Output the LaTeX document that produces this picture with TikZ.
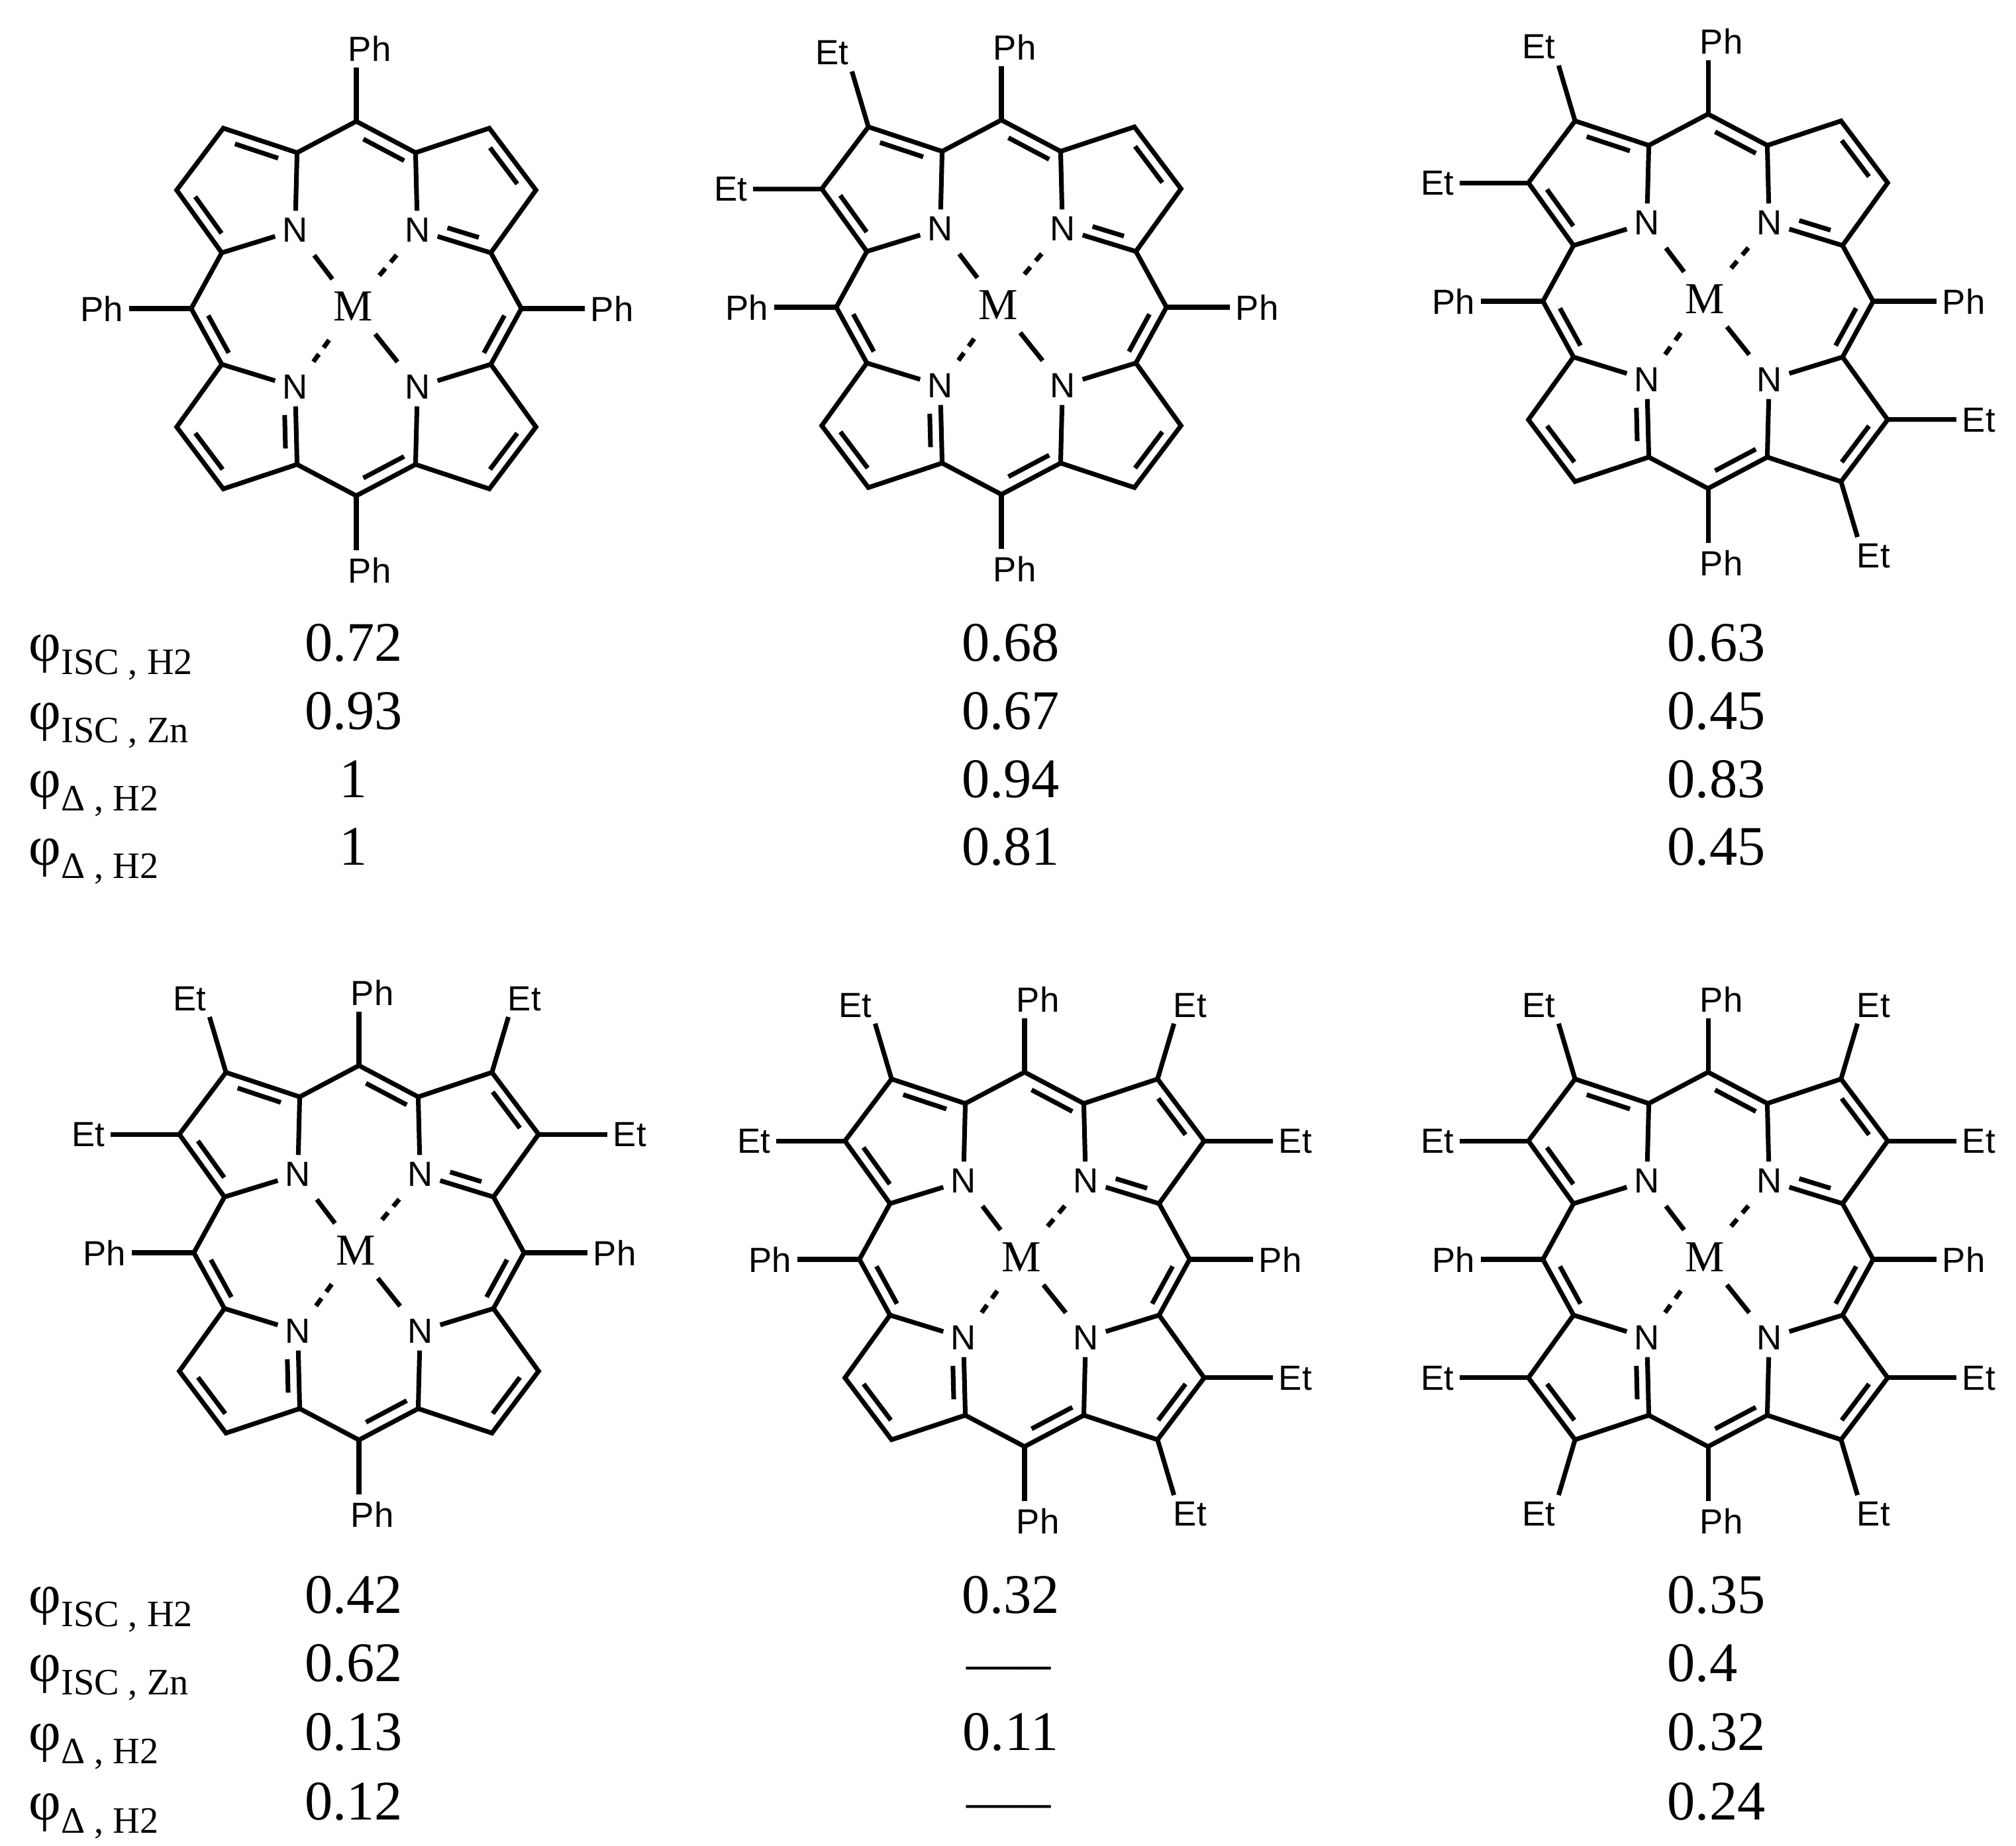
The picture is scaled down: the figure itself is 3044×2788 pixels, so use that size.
\documentclass[tikz,border=0pt]{standalone}
\usepackage{fontspec}
\setmainfont{Liberation Serif}
\newfontfamily\sansf{Liberation Sans}
\usetikzlibrary{calc}
\tikzset{
 bond/.style={line width=2pt},
 dbond/.style={line width=2pt, shorten <=0.12cm, shorten >=0.12cm},
 grp/.style={font=\sansf\fontsize{15}{15}\selectfont, inner sep=1pt, text depth=0pt},
 natom/.style={font=\sansf\fontsize{15}{15}\selectfont, inner sep=3pt},
 matom/.style={font=\fontsize{19}{19}\selectfont, inner sep=3pt},
 mndash/.style={line width=2pt, dash pattern=on 4pt off 3.5pt, shorten <=3pt, shorten >=3pt},
 mnsolid/.style={line width=2pt, shorten <=3pt, shorten >=3pt},
 val/.style={font=\fontsize{24}{24}\selectfont, inner sep=0pt, anchor=base},
 valw/.style={font=\fontsize{24}{24}\selectfont, inner sep=0pt, anchor=base west},
 lbl/.style={font=\fontsize{24}{24}\selectfont, inner sep=0pt, anchor=base west},
}
\newcommand\subl[1]{\raisebox{-0.2cm}{\fontsize{16}{16}\selectfont #1}}
\newcommand\porph[7]{%
\begin{scope}[shift={(#2,#3)}, scale=0.577]
 \coordinate (#1c) at (0,0);
 \coordinate (#1ula1) at (-155,-408); \coordinate (#1ulb1) at (-348,-472);
 \coordinate (#1ulb2) at (-470,-310); \coordinate (#1ula2) at (-352,-146);
 \coordinate (#1ulc) at (-297,-308);
 \coordinate (#1ura1) at (155,-408); \coordinate (#1urb1) at (348,-472);
 \coordinate (#1urb2) at (470,-310); \coordinate (#1ura2) at (352,-146);
 \coordinate (#1urc) at (297,-308);
 \coordinate (#1lla1) at (-155,408); \coordinate (#1llb1) at (-348,472);
 \coordinate (#1llb2) at (-470,310); \coordinate (#1lla2) at (-352,146);
 \coordinate (#1llc) at (-297,308);
 \coordinate (#1lra1) at (155,408); \coordinate (#1lrb1) at (348,472);
 \coordinate (#1lrb2) at (470,310); \coordinate (#1lra2) at (352,146);
 \coordinate (#1lrc) at (297,308);
 \coordinate (#1T) at (0,-490); \coordinate (#1B) at (0,490);
 \coordinate (#1L) at (-432,0); \coordinate (#1R) at (432,0);
 \node[natom] (#1ulN) at (-160,-205) {N};
 \node[natom] (#1urN) at (160,-205) {N};
 \node[natom] (#1llN) at (-160,205) {N};
 \node[natom] (#1lrN) at (160,205) {N};
 \node[matom] (#1M) at (-8,-5) {M};
 % UL ring
 \draw[bond] (#1ulN) -- (#1ula1) -- (#1ulb1) -- (#1ulb2) -- (#1ula2) -- (#1ulN);
 \draw[dbond] ($(#1ula1)!.21!(#1ulc)$) -- ($(#1ulb1)!.21!(#1ulc)$);
 \draw[dbond] ($(#1ulb2)!.21!(#1ulc)$) -- ($(#1ula2)!.21!(#1ulc)$);
 % UR ring
 \draw[bond] (#1urN) -- (#1ura1) -- (#1urb1) -- (#1urb2) -- (#1ura2) -- (#1urN);
 \draw[dbond] ($(#1urb1)!.21!(#1urc)$) -- ($(#1urb2)!.21!(#1urc)$);
 \draw[dbond, shorten <=0.3cm] ($(#1urN.center)!.21!(#1urc)$) -- ($(#1ura2)!.21!(#1urc)$);
 % LL ring
 \draw[bond] (#1llN) -- (#1lla1) -- (#1llb1) -- (#1llb2) -- (#1lla2) -- (#1llN);
 \draw[dbond] ($(#1llb1)!.21!(#1llc)$) -- ($(#1llb2)!.21!(#1llc)$);
 \draw[dbond, shorten <=0.3cm] ($(#1llN.center)!.21!(#1llc)$) -- ($(#1lla1)!.21!(#1llc)$);
 % LR ring
 \draw[bond] (#1lrN) -- (#1lra1) -- (#1lrb1) -- (#1lrb2) -- (#1lra2) -- (#1lrN);
 \draw[dbond] ($(#1lrb1)!.21!(#1lrc)$) -- ($(#1lrb2)!.21!(#1lrc)$);
 % meso
 \draw[bond] (#1ula1) -- (#1T) -- (#1ura1);
 \draw[dbond] ($(#1T)!.075!(#1c)$) -- ($(#1ura1)!.075!(#1c)$);
 \draw[bond] (#1ula2) -- (#1L) -- (#1lla2);
 \draw[dbond] ($(#1L)!.08!(#1c)$) -- ($(#1lla2)!.08!(#1c)$);
 \draw[bond] (#1ura2) -- (#1R) -- (#1lra2);
 \draw[dbond] ($(#1R)!.08!(#1c)$) -- ($(#1lra2)!.08!(#1c)$);
 \draw[bond] (#1lla1) -- (#1B) -- (#1lra1);
 \draw[dbond] ($(#1B)!.075!(#1c)$) -- ($(#1lra1)!.075!(#1c)$);
 % M-N
 \draw[mnsolid] (#1ulN) -- (#1M);
 \draw[mndash] (#1urN) -- (#1M);
 \draw[mndash] (#1llN) -- (#1M);
 \draw[mnsolid] (#1lrN) -- (#1M);
 % Ph
 \coordinate (#1pTb) at (0,-630); \node[grp, anchor=south] (#1pT) at (35,-640) {Ph};
 \coordinate (#1pBb) at (0,632); \node[grp, anchor=north] (#1pB) at (35,645) {Ph};
 \coordinate (#1pLb) at (-595,0); \node[grp, anchor=east] (#1pL) at (-603,0) {Ph};
 \coordinate (#1pRb) at (598,0); \node[grp, anchor=west] (#1pR) at (606,0) {Ph};
 \draw[bond] (#1T) -- (#1pTb); \draw[bond] (#1B) -- (#1pBb);
 \draw[bond] (#1L) -- (#1pLb); \draw[bond] (#1R) -- (#1pRb);
 % Et
 \ifnum#4=1
  \coordinate (#1e1b) at (-391,-617); \node[grp, anchor=south] (#1e1) at (-443,-627) {Et};
  \coordinate (#1e2b) at (-650,-310); \node[grp, anchor=east] (#1e2) at (-658,-310) {Et};
  \draw[bond] (#1ulb1) -- (#1e1b); \draw[bond] (#1ulb2) -- (#1e2b);
 \fi
 \ifnum#5=1
  \coordinate (#1e3b) at (391,-617); \node[grp, anchor=south] (#1e3) at (433,-627) {Et};
  \coordinate (#1e4b) at (650,-310); \node[grp, anchor=west] (#1e4) at (658,-310) {Et};
  \draw[bond] (#1urb1) -- (#1e3b); \draw[bond] (#1urb2) -- (#1e4b);
 \fi
 \ifnum#6=1
  \coordinate (#1e5b) at (-391,617); \node[grp, anchor=north] (#1e5) at (-443,627) {Et};
  \coordinate (#1e6b) at (-650,310); \node[grp, anchor=east] (#1e6) at (-658,310) {Et};
  \draw[bond] (#1llb1) -- (#1e5b); \draw[bond] (#1llb2) -- (#1e6b);
 \fi
 \ifnum#7=1
  \coordinate (#1e7b) at (391,617); \node[grp, anchor=north] (#1e7) at (433,627) {Et};
  \coordinate (#1e8b) at (650,310); \node[grp, anchor=west] (#1e8) at (658,310) {Et};
  \draw[bond] (#1lrb1) -- (#1e7b); \draw[bond] (#1lrb2) -- (#1e8b);
 \fi
\end{scope}}
\begin{document}
\begin{tikzpicture}[x=0.01cm, y=-0.01cm]
\useasboundingbox (0,0) rectangle (3044,2788);
\porph{a}{538}{466}{0}{0}{0}{0}
\porph{b}{1512}{464}{1}{0}{0}{0}
\porph{c}{2579}{455}{1}{0}{0}{1}
\porph{d}{542}{1892}{1}{1}{0}{0}
\porph{e}{1547}{1902}{1}{1}{0}{1}
\porph{f}{2579}{1902}{1}{1}{1}{1}
% table 1
\node[lbl] (l1) at (43,998) {φ\subl{ISC , H2}};
\node[lbl] (l2) at (43,1101) {φ\subl{ISC , Zn}};
\node[lbl] (l3) at (43,1204) {φ\subl{Δ , H2}};
\node[lbl] (l4) at (43,1306) {φ\subl{Δ , H2}};
\node[val] (v11) at (534,998) {0.72};
\node[val] (v12) at (534,1101) {0.93};
\node[val] (v13) at (534,1204) {1};
\node[val] (v14) at (534,1306) {1};
\node[val] (v21) at (1526,998) {0.68};
\node[val] (v22) at (1526,1101) {0.67};
\node[val] (v23) at (1526,1204) {0.94};
\node[val] (v24) at (1526,1306) {0.81};
\node[valw] (v31) at (2517,998) {0.63};
\node[valw] (v32) at (2517,1101) {0.45};
\node[valw] (v33) at (2517,1204) {0.83};
\node[valw] (v34) at (2517,1306) {0.45};
% table 2
\node[lbl] (m1) at (43,2436) {φ\subl{ISC , H2}};
\node[lbl] (m2) at (43,2539) {φ\subl{ISC , Zn}};
\node[lbl] (m3) at (43,2643) {φ\subl{Δ , H2}};
\node[lbl] (m4) at (43,2748) {φ\subl{Δ , H2}};
\node[val] (w11) at (534,2436) {0.42};
\node[val] (w12) at (534,2539) {0.62};
\node[val] (w13) at (534,2643) {0.13};
\node[val] (w14) at (534,2748) {0.12};
\node[val] (w21) at (1526,2436) {0.32};
\node[val] (w22) at (1523,2539) {-----};
\node[val] (w23) at (1526,2643) {0.11};
\node[val] (w24) at (1523,2748) {-----};
\node[valw] (w31) at (2517,2436) {0.35};
\node[valw] (w32) at (2517,2539) {0.4};
\node[valw] (w33) at (2517,2643) {0.32};
\node[valw] (w34) at (2517,2748) {0.24};
\end{tikzpicture}
\end{document}
